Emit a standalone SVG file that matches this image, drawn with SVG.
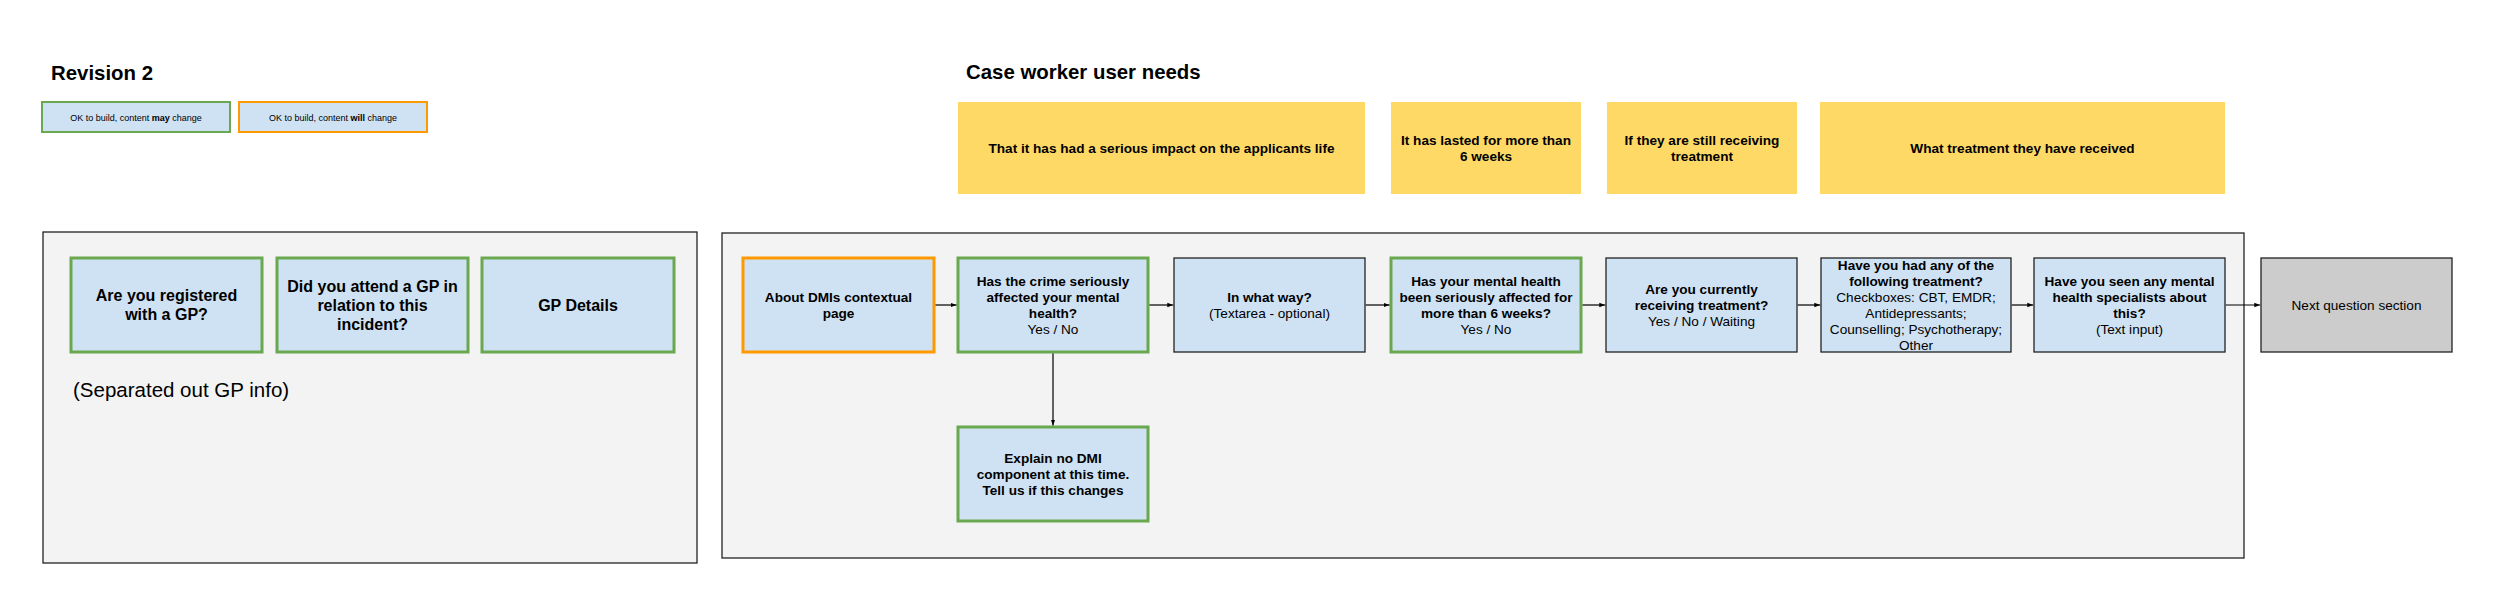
<svg xmlns="http://www.w3.org/2000/svg" width="2500" height="616" viewBox="0 0 2500 616">
<defs>
<marker id="arr" markerUnits="userSpaceOnUse" markerWidth="6" markerHeight="6" viewBox="0 0 6 6" refX="6" refY="3" orient="auto">
<path d="M0,0.8 L6,3 L0,5.2 Z" fill="#000"/>
</marker>
</defs>
<style>
text{font-family:"Liberation Sans",Arial,sans-serif;fill:#000;text-anchor:middle}
.title{font-size:20.4px;font-weight:bold;text-anchor:start}
.note{font-size:20.5px;text-anchor:start}
.leg{font-size:9px}
.b16{font-size:16px;font-weight:bold}
.b{font-size:13.6px;font-weight:bold}
.n{font-size:13.6px}
.container{fill:#f3f3f3;stroke:#222;stroke-width:1.3}
.green{fill:#cfe2f3;stroke:#6aa84f;stroke-width:3}
.orange{fill:#cfe2f3;stroke:#ff9900;stroke-width:3}
.plain{fill:#cfe2f3;stroke:#222;stroke-width:1.3}
.grey{fill:#cccccc;stroke:#222;stroke-width:1.3}
.need{fill:#ffd966;stroke:none}
.conn{stroke:#000;stroke-width:1.2;fill:none;marker-end:url(#arr)}
</style>
<rect width="2500" height="616" fill="#fff"/>

<text class="title" x="51" y="80">Revision 2</text>
<g id="legend-may">
<rect x="42" y="102" width="188" height="30" class="green" style="stroke-width:2"/>
<text class="leg" x="136" y="120.6">OK to build, content <tspan font-weight="bold">may</tspan> change</text>
</g>
<g id="legend-will">
<rect x="239" y="102" width="188" height="30" class="orange" style="stroke-width:2"/>
<text class="leg" x="333" y="120.6">OK to build, content <tspan font-weight="bold">will</tspan> change</text>
</g>

<g id="gp-container">
<rect x="43" y="232" width="654" height="331" class="container"/>
<text class="note" x="73" y="397">(Separated out GP info)</text>
</g>
<g id="gp-registered">
<rect x="71" y="258" width="191" height="94" class="green"/>
<text class="b16" x="166.5" y="301">Are you registered</text>
<text class="b16" x="166.5" y="320">with a GP?</text>
</g>
<g id="gp-attend">
<rect x="277" y="258" width="191" height="94" class="green"/>
<text class="b16" x="372.5" y="291.5">Did you attend a GP in</text>
<text class="b16" x="372.5" y="310.5">relation to this</text>
<text class="b16" x="372.5" y="329.5">incident?</text>
</g>
<g id="gp-details">
<rect x="482" y="258" width="192" height="94" class="green"/>
<text class="b16" x="578" y="310.5">GP Details</text>
</g>

<text class="title" x="966" y="79">Case worker user needs</text>
<g id="need-impact">
<rect x="958" y="102" width="407" height="92" class="need"/>
<text class="b" x="1161.5" y="152.7">That it has had a serious impact on the applicants life</text>
</g>
<g id="need-lasted">
<rect x="1391" y="102" width="190" height="92" class="need"/>
<text class="b" x="1486" y="144.7">It has lasted for more than</text>
<text class="b" x="1486" y="160.7">6 weeks</text>
</g>
<g id="need-receiving">
<rect x="1607" y="102" width="190" height="92" class="need"/>
<text class="b" x="1702" y="144.7">If they are still receiving</text>
<text class="b" x="1702" y="160.7">treatment</text>
</g>
<g id="need-treatment">
<rect x="1820" y="102" width="405" height="92" class="need"/>
<text class="b" x="2022.5" y="152.7">What treatment they have received</text>
</g>

<g id="dmi-container">
<rect x="722" y="233" width="1522" height="325" class="container"/>
</g>

<g id="about-dmi">
<rect x="743" y="258" width="191" height="94" class="orange"/>
<text class="b" x="838.5" y="301.7">About DMIs contextual</text>
<text class="b" x="838.5" y="317.7">page</text>
</g>
<g id="crime-affected">
<rect x="958" y="258" width="190" height="94" class="green"/>
<text class="b" x="1053" y="285.7">Has the crime seriously</text>
<text class="b" x="1053" y="301.7">affected your mental</text>
<text class="b" x="1053" y="317.7">health?</text>
<text class="n" x="1053" y="333.7">Yes / No</text>
</g>
<g id="what-way">
<rect x="1174" y="258" width="191" height="94" class="plain"/>
<text class="b" x="1269.5" y="301.7">In what way?</text>
<text class="n" x="1269.5" y="317.7">(Textarea - optional)</text>
</g>
<g id="six-weeks">
<rect x="1391" y="258" width="190" height="94" class="green"/>
<text class="b" x="1486" y="285.7">Has your mental health</text>
<text class="b" x="1486" y="301.7">been seriously affected for</text>
<text class="b" x="1486" y="317.7">more than 6 weeks?</text>
<text class="n" x="1486" y="333.7">Yes / No</text>
</g>
<g id="currently-receiving">
<rect x="1606" y="258" width="191" height="94" class="plain"/>
<text class="b" x="1701.5" y="293.7">Are you currently</text>
<text class="b" x="1701.5" y="309.7">receiving treatment?</text>
<text class="n" x="1701.5" y="325.7">Yes / No / Waiting</text>
</g>
<g id="treatment-types">
<rect x="1821" y="258" width="190" height="94" class="plain"/>
<text class="b" x="1916" y="269.7">Have you had any of the</text>
<text class="b" x="1916" y="285.7">following treatment?</text>
<text class="n" x="1916" y="301.7">Checkboxes: CBT, EMDR;</text>
<text class="n" x="1916" y="317.7">Antidepressants;</text>
<text class="n" x="1916" y="333.7">Counselling; Psychotherapy;</text>
<text class="n" x="1916" y="349.7">Other</text>
</g>
<g id="specialists">
<rect x="2034" y="258" width="191" height="94" class="plain"/>
<text class="b" x="2129.5" y="285.7">Have you seen any mental</text>
<text class="b" x="2129.5" y="301.7">health specialists about</text>
<text class="b" x="2129.5" y="317.7">this?</text>
<text class="n" x="2129.5" y="333.7">(Text input)</text>
</g>
<g id="next-section">
<rect x="2261" y="258" width="191" height="94" class="grey"/>
<text class="n" x="2356.5" y="309.7">Next question section</text>
</g>
<g id="explain-no-dmi">
<rect x="958" y="427" width="190" height="94" class="green"/>
<text class="b" x="1053" y="462.7">Explain no DMI</text>
<text class="b" x="1053" y="478.7">component at this time.</text>
<text class="b" x="1053" y="494.7">Tell us if this changes</text>
</g>

<g id="connectors">
<line class="conn" x1="935.5" y1="305" x2="956.5" y2="305"/>
<line class="conn" x1="1149.5" y1="305" x2="1173.3" y2="305"/>
<line class="conn" x1="1365.7" y1="305" x2="1389.5" y2="305"/>
<line class="conn" x1="1582.5" y1="305" x2="1605.3" y2="305"/>
<line class="conn" x1="1797.7" y1="305" x2="1820.3" y2="305"/>
<line class="conn" x1="2011.7" y1="305" x2="2033.3" y2="305"/>
<line class="conn" x1="2225.7" y1="305" x2="2260.3" y2="305"/>
<line class="conn" x1="1053" y1="353.5" x2="1053" y2="425.5"/>
</g>
</svg>
